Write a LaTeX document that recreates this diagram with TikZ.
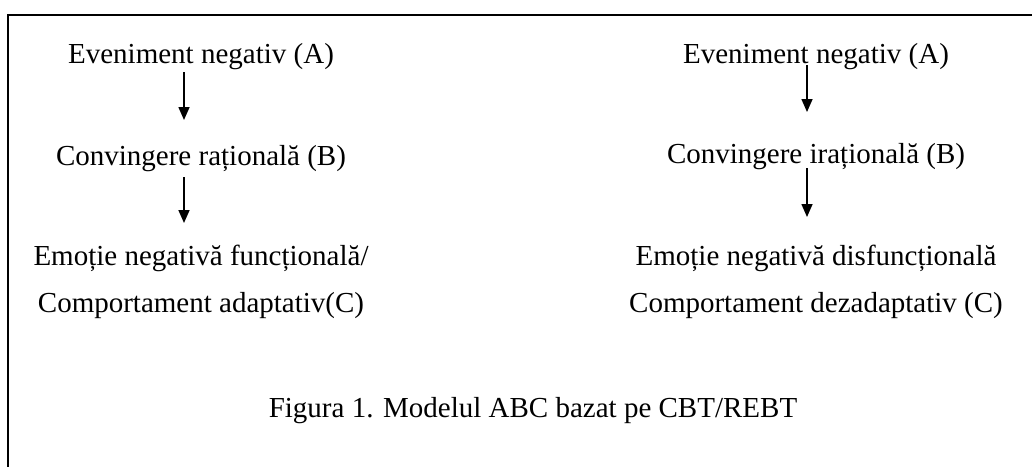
\documentclass[tikz,border=0pt]{standalone}
\usepackage{fontspec}
\setmainfont{Liberation Serif}
\usetikzlibrary{positioning,arrows.meta}

\begin{document}
\begin{tikzpicture}[x=1pt, y=-1pt,
  every node/.style={font=\fontsize{29}{35}\selectfont, inner sep=0pt, outer sep=0pt, anchor=base, text height=20pt, text depth=6pt},
  down/.style={line width=1.6pt, -{Triangle[width=11pt,length=13pt]}}]
\useasboundingbox (0,0) rectangle (1032,466);
% frame, open at right and bottom
\draw[line width=2pt] (1040,15) -- (8,15) -- (8,470);
% left column
\node (a1) at (201,63) {Eveniment negativ (A)};
\node (b1) at (201,165) {Convingere rațională (B)};
\node (c1) at (201,265) {Emoție negativă funcțională/};
\node (d1) at (201,312) {Comportament adaptativ(C)};
% right column
\node (a2) at (816,63) {Eveniment negativ (A)};
\node (b2) at (816,163) {Convingere irațională (B)};
\node (c2) at (816,265) {Emoție negativă disfuncțională};
\node (d2) at (816,312) {Comportament dezadaptativ (C)};
\node (fig) at (533,417) {Figura 1. Modelul ABC bazat pe CBT/REBT};
\coordinate (lx) at (184,0);
\coordinate (rx) at (807,0);
\draw[down, shorten <=3pt, shorten >=25pt] (a1.south -| lx) -- (b1.north -| lx);
\draw[down, shorten <=6pt, shorten >=22pt] (b1.south -| lx) -- (c1.north -| lx);
\draw[down, shorten <=-4pt, shorten >=31pt] (a2.south -| rx) -- (b2.north -| rx);
\draw[down, shorten <=-1pt, shorten >=28pt] (b2.south -| rx) -- (c2.north -| rx);
\end{tikzpicture}
\end{document}
